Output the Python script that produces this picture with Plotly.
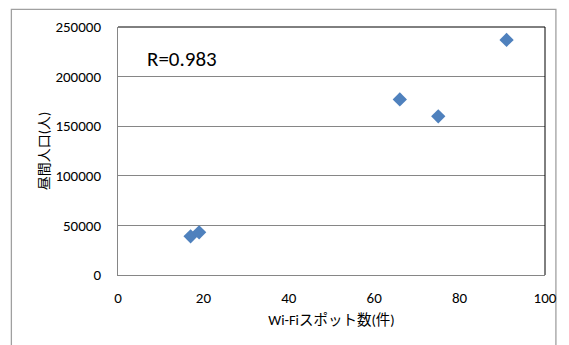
import plotly.graph_objects as go

wifi_spots = [17, 19, 66, 75, 91]
daytime_pop = [39000, 43000, 177000, 160000, 237000]
x_title = "Wi-Fiスポット数(件)"
y_title = "昼間人口(人)"
r_label = "R=0.983"

W, H = 569, 345
L, R_, T, B = 117.5, 548, 26.7, 275
pw, ph = R_ - L, B - T

def px(x):
    return (x - L) / pw

def py(y):
    return (B - y) / ph

font = "Carlito, Calibri, 'Liberation Sans', 'Noto Sans CJK JP', sans-serif"
black = "#000000"

fig = go.Figure()
fig.add_trace(go.Scatter(
    x=wifi_spots, y=daytime_pop, mode="markers",
    marker=dict(symbol="diamond", size=11, color="#4F81BD",
                line=dict(width=0)),
    cliponaxis=False, showlegend=False,
))

fig.update_layout(
    width=W, height=H,
    margin=dict(l=L, r=W - R_, t=T, b=H - B, pad=0),
    paper_bgcolor="white", plot_bgcolor="white",
    font=dict(family=font, size=15, color=black),
    xaxis=dict(range=[0, 100], dtick=20, showgrid=False, zeroline=False,
               showline=True, linecolor="#868686", linewidth=1,
               ticks="", ticklen=0, tickfont=dict(size=15, color=black),
               ticklabelstandoff=9,
               title=dict(text=x_title, font=dict(size=14.5, color=black), standoff=8)),
    yaxis=dict(range=[0, 250000], dtick=50000, showgrid=True,
               gridcolor="#868686", gridwidth=1, zeroline=False,
               showline=True, linecolor="#868686", linewidth=1,
               ticks="", tickformat="d", tickfont=dict(size=15, color=black),
               ticklabelstandoff=13,
               title=dict(text=y_title, font=dict(size=14, color=black), standoff=2)),
    shapes=[
        dict(type="rect", xref="paper", yref="paper",
             x0=px(10), x1=px(559), y0=py(360), y1=py(9),
             line=dict(color="#A0A0A0", width=1.3), layer="below"),
        dict(type="line", xref="paper", yref="paper",
             x0=0, x1=1, y0=1, y1=1, line=dict(color=black, width=1)),
        dict(type="line", xref="paper", yref="paper",
             x0=1, x1=1, y0=0, y1=1, line=dict(color=black, width=1)),
    ],
    annotations=[
        dict(text=r_label, xref="paper", yref="paper",
             x=px(145), y=py(59), xanchor="left", yanchor="middle",
             showarrow=False, font=dict(size=21, family=font, color=black)),
    ],
)

fig.write_html("out.html")
